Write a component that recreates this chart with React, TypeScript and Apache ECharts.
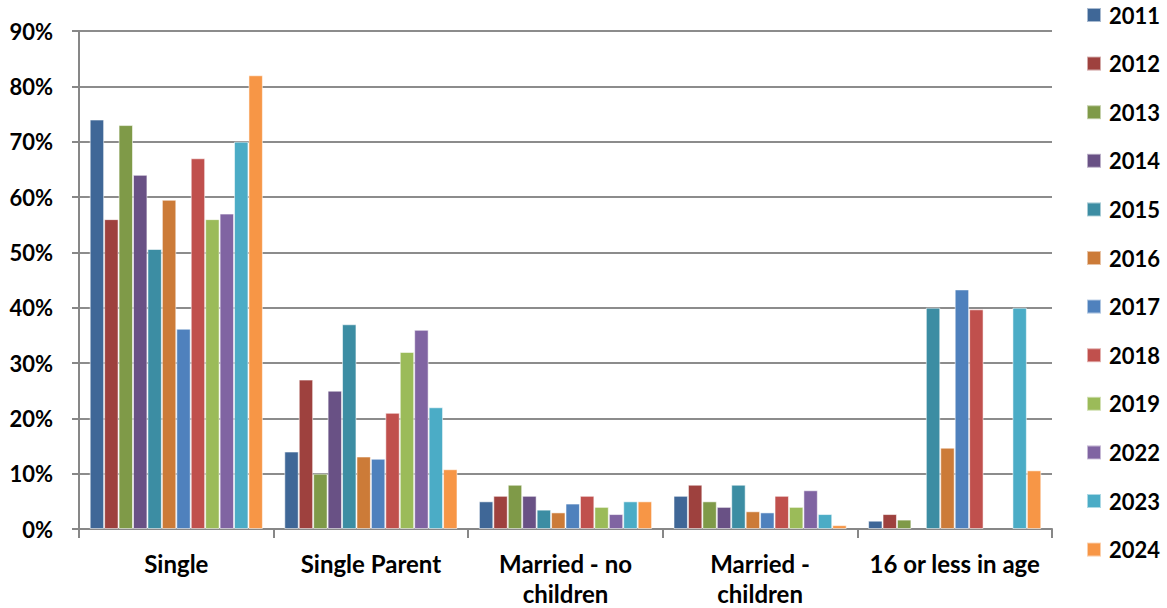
import React, { useEffect, useRef } from "react";
import * as echarts from "echarts";

const categories = ["Single", "Single Parent", "Married - no\nchildren", "Married -\nchildren", "16 or less in age"];
const years = ["2011", "2012", "2013", "2014", "2015", "2016", "2017", "2018", "2019", "2022", "2023", "2024"];
const colors = ["#3F6797", "#9E413E", "#7F9A48", "#695185", "#3C8DA3", "#CC7B38", "#4F81BD", "#C0504D", "#9BBB59", "#8064A2", "#4BACC6", "#F79646"];

const v2011 = [74, 14, 5, 6, 1.5];
const v2012 = [56, 27, 6, 8, 2.7];
const v2013 = [73, 10, 8, 5, 1.7];
const v2014 = [64, 25, 6, 4, null];
const v2015 = [50.6, 37, 3.5, 8, 40];
const v2016 = [59.5, 13.1, 3, 3.2, 14.7];
const v2017 = [36.2, 12.7, 4.6, 3, 43.3];
const v2018 = [67, 21, 6, 6, 39.7];
const v2019 = [56, 32, 4, 4, null];
const v2022 = [57, 36, 2.7, 7, null];
const v2023 = [70, 22, 5, 2.7, 40];
const v2024 = [82, 10.8, 5, 0.7, 10.6];
const seriesValues = [v2011, v2012, v2013, v2014, v2015, v2016, v2017, v2018, v2019, v2022, v2023, v2024];

const yTicks = { min: 0, max: 90, interval: 10 };

const FONT = "Lato, 'Noto Sans', sans-serif";

export default function App() {
  const ref = useRef<HTMLDivElement>(null);
  useEffect(() => {
    if (!ref.current) return;
    const chart = echarts.init(ref.current, null, { renderer: "svg" });
    const axisGrey = "#878787";
    chart.setOption({
      animation: false,
      color: colors,
      grid: { left: 79, right: 115, top: 31, bottom: 79, containLabel: false, outerBoundsMode: "none" },
      legend: {
        orient: "vertical",
        left: 1086,
        top: 4,
        padding: 0,
        itemWidth: 14,
        itemHeight: 14,
        itemGap: 26.6,
        icon: "rect",
        textStyle: { fontFamily: FONT, fontSize: 22, fontWeight: "bold", color: "#000", padding: [0, 0, 0, 3] },
        data: years,
      },
      xAxis: {
        type: "category",
        data: categories,
        axisLine: { lineStyle: { color: axisGrey, width: 2 } },
        axisTick: { show: true, length: 9, lineStyle: { color: axisGrey, width: 2 } },
        axisLabel: {
          interval: 0,
          margin: 19,
          fontFamily: FONT,
          fontSize: 24,
          fontWeight: "bold",
          color: "#000",
          lineHeight: 30,
        },
      },
      yAxis: {
        type: "value",
        min: yTicks.min,
        max: yTicks.max,
        interval: yTicks.interval,
        axisLine: { show: true, lineStyle: { color: axisGrey, width: 2 } },
        axisTick: { show: true, length: 7, lineStyle: { color: axisGrey, width: 2 } },
        splitLine: { lineStyle: { color: "#8C8C8C", width: 2 } },
        axisLabel: {
          margin: 26,
          fontFamily: FONT,
          fontSize: 22,
          fontWeight: "bold",
          color: "#000",
          formatter: (v: number) => v + "%",
        },
      },
      series: years.map((y, i) => ({
        name: y,
        type: "bar",
        data: seriesValues[i],
        barGap: "0%",
        barCategoryGap: "11%",
        itemStyle: { color: colors[i], borderColor: "rgba(255,255,255,0.55)", borderWidth: 1 },
      })),
    });
    return () => chart.dispose();
  }, []);
  return <div ref={ref} style={{ position: "fixed", left: 0, top: 0, width: 1167, height: 608, background: "#fff" }} />;
}
